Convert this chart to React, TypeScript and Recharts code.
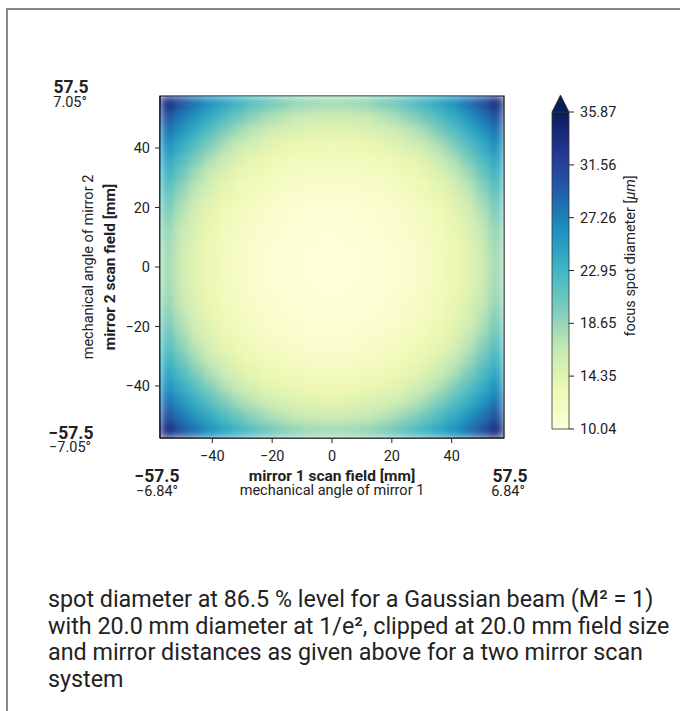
import { ScatterChart, Scatter, XAxis, YAxis, ReferenceArea } from "recharts";

// scan field edge (mm) and axis ticks
const fieldEdge = 57.5;
const axisTicks = [-40, -20, 0, 20, 40];

// colour bar range / ticks (focus spot diameter in um)
const barMin = 10.04;
const barMax = 35.87;
const barTicks = [10.04, 14.35, 18.65, 22.95, 27.26, 31.56, 35.87];

// cell centres of the 24 x 24 sample grid (mm), left->right and bottom->top
const cellCenters = [
  -55.1, -50.31, -45.52, -40.73, -35.94, -31.15, -26.35, -21.56, -16.77, -11.98, -7.19, -2.4,
  2.4, 7.19, 11.98, 16.77, 21.56, 26.35, 31.15, 35.94, 40.73, 45.52, 50.31, 55.1,
];

// spot diameter (um), one row per grid line, top row first
const spotRows = [
  [34.0, 30.2, 28.0, 26.1, 24.5, 23.0, 21.7, 20.5, 19.6, 18.8, 18.3, 18.1, 18.1, 18.3, 18.8, 19.6, 20.5, 21.7, 23.0, 24.5, 26.1, 28.0, 30.2, 34.0],
  [30.2, 27.8, 25.7, 23.8, 22.1, 20.5, 19.1, 17.9, 17.1, 16.4, 16.0, 15.8, 15.8, 16.0, 16.4, 17.1, 17.9, 19.1, 20.5, 22.1, 23.8, 25.7, 27.8, 30.2],
  [28.0, 25.7, 23.6, 21.7, 19.8, 18.1, 16.9, 15.8, 15.1, 14.7, 14.4, 14.2, 14.2, 14.4, 14.7, 15.1, 15.8, 16.9, 18.1, 19.8, 21.7, 23.6, 25.7, 28.0],
  [26.1, 23.8, 21.7, 19.6, 17.7, 16.2, 15.1, 14.4, 13.8, 13.4, 13.1, 13.0, 13.0, 13.1, 13.4, 13.8, 14.4, 15.1, 16.2, 17.7, 19.6, 21.7, 23.8, 26.1],
  [24.5, 22.1, 19.8, 17.7, 16.0, 14.8, 13.9, 13.3, 12.8, 12.5, 12.3, 12.2, 12.2, 12.3, 12.5, 12.8, 13.3, 13.9, 14.8, 16.0, 17.7, 19.8, 22.1, 24.5],
  [23.0, 20.5, 18.1, 16.2, 14.8, 13.8, 13.0, 12.5, 12.1, 11.8, 11.6, 11.6, 11.6, 11.6, 11.8, 12.1, 12.5, 13.0, 13.8, 14.8, 16.2, 18.1, 20.5, 23.0],
  [21.7, 19.1, 16.9, 15.1, 13.9, 13.0, 12.4, 11.9, 11.6, 11.3, 11.1, 11.1, 11.1, 11.1, 11.3, 11.6, 11.9, 12.4, 13.0, 13.9, 15.1, 16.9, 19.1, 21.7],
  [20.5, 17.9, 15.8, 14.4, 13.3, 12.5, 11.9, 11.5, 11.1, 10.9, 10.7, 10.7, 10.7, 10.7, 10.9, 11.1, 11.5, 11.9, 12.5, 13.3, 14.4, 15.8, 17.9, 20.5],
  [19.6, 17.1, 15.1, 13.8, 12.8, 12.1, 11.6, 11.1, 10.8, 10.6, 10.5, 10.4, 10.4, 10.5, 10.6, 10.8, 11.1, 11.6, 12.1, 12.8, 13.8, 15.1, 17.1, 19.6],
  [18.8, 16.4, 14.7, 13.4, 12.5, 11.8, 11.3, 10.9, 10.6, 10.4, 10.3, 10.2, 10.2, 10.3, 10.4, 10.6, 10.9, 11.3, 11.8, 12.5, 13.4, 14.7, 16.4, 18.8],
  [18.3, 16.0, 14.4, 13.1, 12.3, 11.6, 11.1, 10.7, 10.5, 10.3, 10.2, 10.1, 10.1, 10.2, 10.3, 10.5, 10.7, 11.1, 11.6, 12.3, 13.1, 14.4, 16.0, 18.3],
  [18.1, 15.8, 14.2, 13.0, 12.2, 11.6, 11.1, 10.7, 10.4, 10.2, 10.1, 10.0, 10.0, 10.1, 10.2, 10.4, 10.7, 11.1, 11.6, 12.2, 13.0, 14.2, 15.8, 18.1],
  [18.1, 15.8, 14.2, 13.0, 12.2, 11.6, 11.1, 10.7, 10.4, 10.2, 10.1, 10.0, 10.0, 10.1, 10.2, 10.4, 10.7, 11.1, 11.6, 12.2, 13.0, 14.2, 15.8, 18.1],
  [18.3, 16.0, 14.4, 13.1, 12.3, 11.6, 11.1, 10.7, 10.5, 10.3, 10.2, 10.1, 10.1, 10.2, 10.3, 10.5, 10.7, 11.1, 11.6, 12.3, 13.1, 14.4, 16.0, 18.3],
  [18.8, 16.4, 14.7, 13.4, 12.5, 11.8, 11.3, 10.9, 10.6, 10.4, 10.3, 10.2, 10.2, 10.3, 10.4, 10.6, 10.9, 11.3, 11.8, 12.5, 13.4, 14.7, 16.4, 18.8],
  [19.6, 17.1, 15.1, 13.8, 12.8, 12.1, 11.6, 11.1, 10.8, 10.6, 10.5, 10.4, 10.4, 10.5, 10.6, 10.8, 11.1, 11.6, 12.1, 12.8, 13.8, 15.1, 17.1, 19.6],
  [20.5, 17.9, 15.8, 14.4, 13.3, 12.5, 11.9, 11.5, 11.1, 10.9, 10.7, 10.7, 10.7, 10.7, 10.9, 11.1, 11.5, 11.9, 12.5, 13.3, 14.4, 15.8, 17.9, 20.5],
  [21.7, 19.1, 16.9, 15.1, 13.9, 13.0, 12.4, 11.9, 11.6, 11.3, 11.1, 11.1, 11.1, 11.1, 11.3, 11.6, 11.9, 12.4, 13.0, 13.9, 15.1, 16.9, 19.1, 21.7],
  [23.0, 20.5, 18.1, 16.2, 14.8, 13.8, 13.0, 12.5, 12.1, 11.8, 11.6, 11.6, 11.6, 11.6, 11.8, 12.1, 12.5, 13.0, 13.8, 14.8, 16.2, 18.1, 20.5, 23.0],
  [24.5, 22.1, 19.8, 17.7, 16.0, 14.8, 13.9, 13.3, 12.8, 12.5, 12.3, 12.2, 12.2, 12.3, 12.5, 12.8, 13.3, 13.9, 14.8, 16.0, 17.7, 19.8, 22.1, 24.5],
  [26.1, 23.8, 21.7, 19.6, 17.7, 16.2, 15.1, 14.4, 13.8, 13.4, 13.1, 13.0, 13.0, 13.1, 13.4, 13.8, 14.4, 15.1, 16.2, 17.7, 19.6, 21.7, 23.8, 26.1],
  [28.0, 25.7, 23.6, 21.7, 19.8, 18.1, 16.9, 15.8, 15.1, 14.7, 14.4, 14.2, 14.2, 14.4, 14.7, 15.1, 15.8, 16.9, 18.1, 19.8, 21.7, 23.6, 25.7, 28.0],
  [30.2, 27.8, 25.7, 23.8, 22.1, 20.5, 19.1, 17.9, 17.1, 16.4, 16.0, 15.8, 15.8, 16.0, 16.4, 17.1, 17.9, 19.1, 20.5, 22.1, 23.8, 25.7, 27.8, 30.2],
  [34.0, 30.2, 28.0, 26.1, 24.5, 23.0, 21.7, 20.5, 19.6, 18.8, 18.3, 18.1, 18.1, 18.3, 18.8, 19.6, 20.5, 21.7, 23.0, 24.5, 26.1, 28.0, 30.2, 34.0],
];

// YlGnBu
const ylgnbu = ["#ffffd9", "#edf8b1", "#c7e9b4", "#7fcdbb", "#41b6c4", "#1d91c0", "#225ea8", "#253494", "#081d58"];

const PLOT_W = 344;
const CELL_PX = PLOT_W / cellCenters.length;
const FONT = "Roboto, sans-serif";
const INK = "#222";

function hex(c: string) {
  return [1, 3, 5].map((i) => parseInt(c.slice(i, i + 2), 16));
}

function spotColor(v: number) {
  let t = (v - barMin) / (barMax - barMin);
  t = Math.max(0, Math.min(1, t));
  const p = t * (ylgnbu.length - 1);
  const i = Math.min(ylgnbu.length - 2, Math.floor(p));
  const f = p - i;
  const a = hex(ylgnbu[i]);
  const b = hex(ylgnbu[i + 1]);
  const m = a.map((x, k) => Math.round(x + (b[k] - x) * f));
  return `rgb(${m[0]},${m[1]},${m[2]})`;
}

const cells = spotRows.flatMap((row, r) =>
  row.map((v, c) => ({ x: cellCenters[c], y: cellCenters[cellCenters.length - 1 - r], v }))
);

const barPoints = barTicks.map((v) => ({ x: 0.5, y: v }));

const minus = (v: number) => (v < 0 ? "\u2212" + Math.abs(v) : String(v));

const HeatCell = (props: any) => {
  const { cx, cy, payload } = props;
  const s = CELL_PX + 0.6;
  return <rect x={cx - s / 2} y={cy - s / 2} width={s} height={s} fill={spotColor(payload.v)} />;
};

const NoMark = () => <g />;

const ArrowShape = (props: any) => {
  const { x, y, width, height } = props;
  return (
    <polygon
      points={`${x},${y + height} ${x + width / 2},${y} ${x + width},${y + height}`}
      fill={ylgnbu[8]}
      stroke="#333"
      strokeWidth={0.8}
    />
  );
};

const tickStyle = { fontSize: 14.5, fill: INK, fontFamily: FONT };

export default function App() {
  return (
    <div
      style={{
        position: "absolute",
        left: 6,
        top: 8,
        borderTop: "2px solid #888",
        borderLeft: "2px solid #888",
        width: 674,
        height: 701,
        fontFamily: FONT,
        color: INK,
        overflow: "hidden",
      }}
    >
      <style>{`.heat-cells { filter: url(#heatBlur); }`}</style>
      <svg width={0} height={0} style={{ position: "absolute" }}>
        <defs>
          <filter id="heatBlur" x="0" y="0" width="1" height="1" colorInterpolationFilters="sRGB">
            <feGaussianBlur stdDeviation={5} edgeMode="duplicate" />
          </filter>
          <linearGradient id="barGrad" x1="0" y1="1" x2="0" y2="0">
            {ylgnbu.map((c, i) => (
              <stop key={c} offset={i / (ylgnbu.length - 1)} stopColor={c} />
            ))}
          </linearGradient>
        </defs>
      </svg>

      <div style={{ position: "absolute", left: 0, top: 0 }}>
        <ScatterChart width={560} height={520} margin={{ top: 86, right: 64, bottom: 62, left: 92 }}>
          <XAxis
            type="number"
            dataKey="x"
            domain={[-fieldEdge, fieldEdge]}
            ticks={axisTicks}
            tickFormatter={minus}
            allowDataOverflow
            height={30}
            tickSize={5}
            tickMargin={8}
            tick={tickStyle}
            tickLine={{ stroke: INK }}
            axisLine={{ stroke: "#000" }}
          />
          <YAxis
            type="number"
            dataKey="y"
            domain={[-fieldEdge, fieldEdge]}
            ticks={axisTicks}
            tickFormatter={minus}
            allowDataOverflow
            width={60}
            tickSize={5}
            tickMargin={5}
            tick={tickStyle}
            tickLine={{ stroke: INK }}
            axisLine={{ stroke: "#000" }}
          />
          <Scatter className="heat-cells" data={cells} shape={HeatCell} isAnimationActive={false} />
          <ReferenceArea
            x1={-fieldEdge}
            x2={fieldEdge}
            y1={-fieldEdge}
            y2={fieldEdge}
            fill="none"
            stroke="#000"
            strokeWidth={1.2}
            ifOverflow="visible"
          />
        </ScatterChart>
      </div>

      <div style={{ position: "absolute", left: 522, top: 70 }}>
        <ScatterChart width={150} height={380} margin={{ top: 32, right: 61, bottom: 31, left: 22 }}>
          <XAxis type="number" dataKey="x" domain={[0, 1]} hide />
          <YAxis
            type="number"
            dataKey="y"
            orientation="right"
            domain={[barMin, barMax]}
            ticks={barTicks}
            tickFormatter={(v: number) => v.toFixed(2)}
            width={50}
            tickSize={5}
            tickMargin={6}
            tick={tickStyle}
            tickLine={{ stroke: INK }}
            axisLine={false}
          />
          <Scatter data={barPoints} shape={NoMark} isAnimationActive={false} />
          <ReferenceArea
            x1={0}
            x2={1}
            y1={barMin}
            y2={barMax}
            fill="url(#barGrad)"
            fillOpacity={1}
            stroke="#333"
            strokeWidth={0.8}
          />
          <ReferenceArea x1={0} x2={1} y1={barMax} y2={37.26} ifOverflow="visible" shape={ArrowShape} />
        </ScatterChart>
      </div>

      <svg
        width={674}
        height={520}
        style={{ position: "absolute", left: 0, top: 0, pointerEvents: "none" }}
      >
        <g transform="translate(-8,-10)" fill={INK} fontFamily={FONT}>
          <text x={71} y={93} textAnchor="middle" fontSize={17.5} fontWeight="bold">57.5</text>
          <text x={70} y={107} textAnchor="middle" fontSize={14.5}>7.05°</text>
          <text x={71} y={439} textAnchor="middle" fontSize={17.5} fontWeight="bold">{"\u221257.5"}</text>
          <text x={70} y={452} textAnchor="middle" fontSize={14.5}>{"\u22127.05°"}</text>

          <text x={157} y={482} textAnchor="middle" fontSize={17.5} fontWeight="bold">{"\u221257.5"}</text>
          <text x={157} y={496} textAnchor="middle" fontSize={14.5}>{"\u22126.84°"}</text>
          <text x={510} y={482} textAnchor="middle" fontSize={17.5} fontWeight="bold">57.5</text>
          <text x={508} y={496} textAnchor="middle" fontSize={14.5}>6.84°</text>

          <text x={332} y={481} textAnchor="middle" fontSize={15.5} fontWeight="bold">mirror 1 scan field [mm]</text>
          <text x={332} y={495} textAnchor="middle" fontSize={14.5}>mechanical angle of mirror 1</text>

          <text x={110} y={267} transform="rotate(-90 110 267)" textAnchor="middle" dominantBaseline="central" fontSize={15.5} fontWeight="bold">
            mirror 2 scan field [mm]
          </text>
          <text x={88} y={267} transform="rotate(-90 88 267)" textAnchor="middle" dominantBaseline="central" fontSize={14.5}>
            mechanical angle of mirror 2
          </text>

          <text x={630} y={256} transform="rotate(-90 630 256)" textAnchor="middle" dominantBaseline="central" fontSize={14.5}>
            focus spot diameter [<tspan fontStyle="italic">μm</tspan>]
          </text>
        </g>
      </svg>

      <div
        style={{
          position: "absolute",
          left: 40,
          top: 576,
          fontSize: 23.3,
          lineHeight: "26.7px",
          whiteSpace: "nowrap",
          color: INK,
        }}
      >
        spot diameter at 86.5 % level for a Gaussian beam (M² = 1)
        <br />
        with 20.0 mm diameter at 1/e², clipped at 20.0 mm field size
        <br />
        and mirror distances as given above for a two mirror scan
        <br />
        system
      </div>
    </div>
  );
}
